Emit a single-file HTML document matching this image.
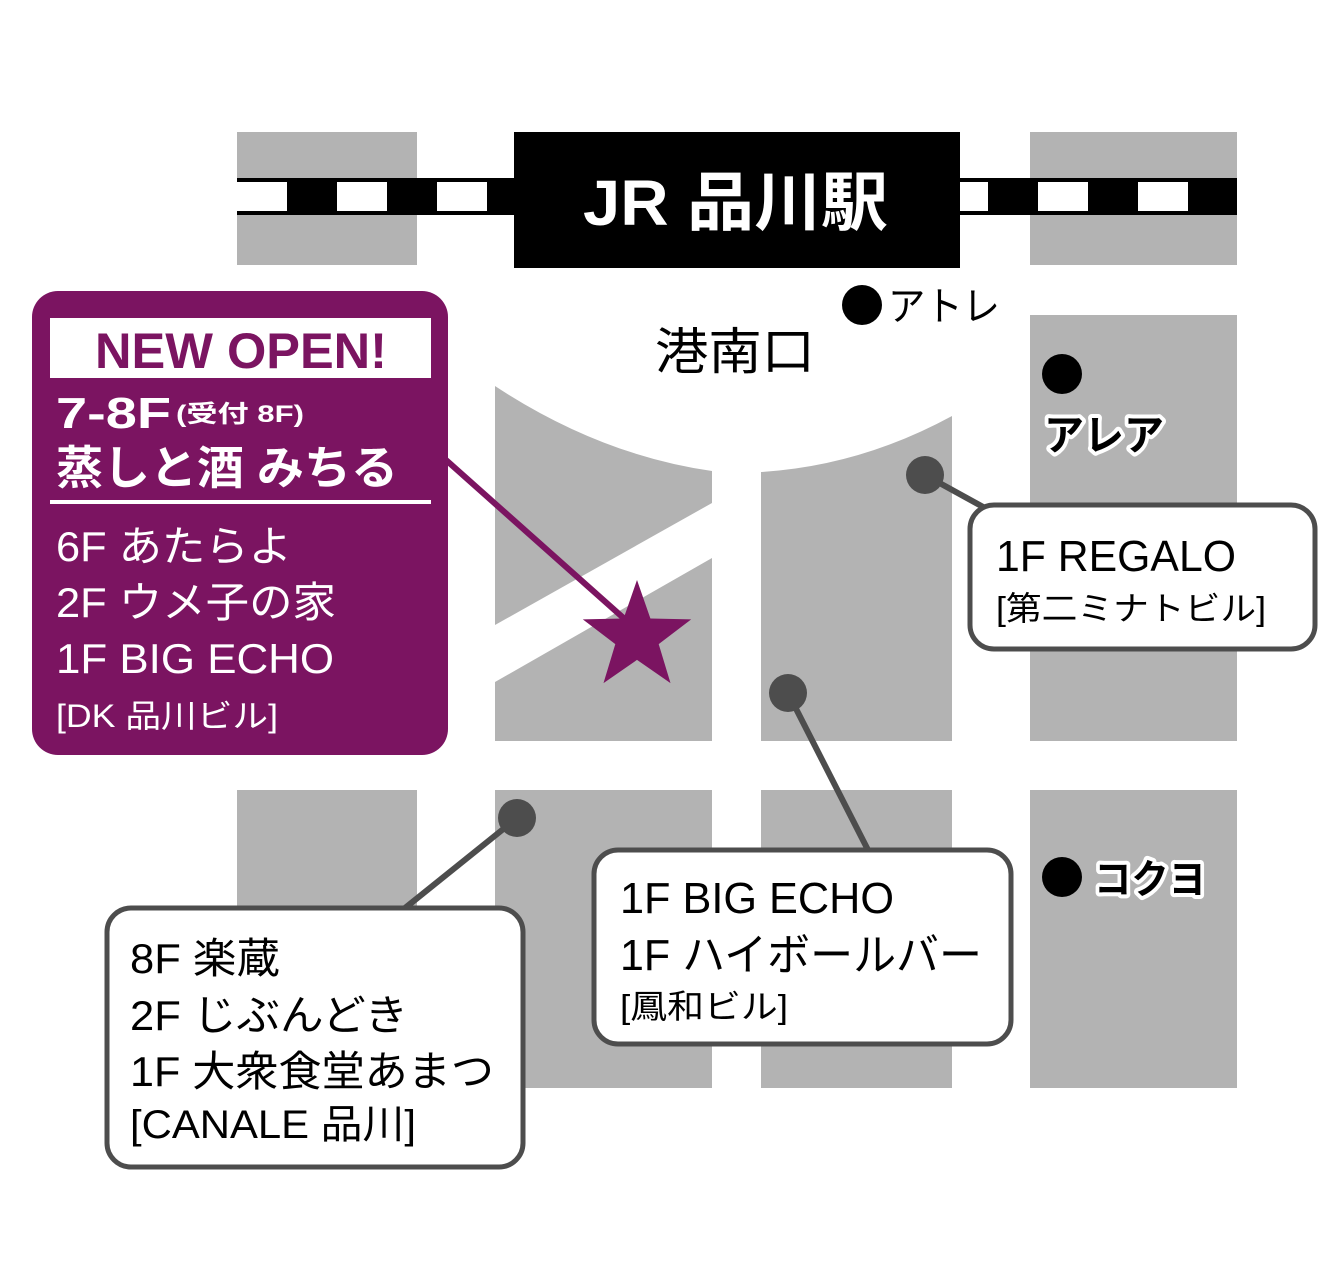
<!DOCTYPE html>
<html><head><meta charset="utf-8"><style>
html,body{margin:0;padding:0;background:#fff;}
svg{display:block;}
text{font-family:"Liberation Sans","Noto Sans CJK JP",sans-serif;}
</style></head><body>
<svg width="1344" height="1277" viewBox="0 0 1344 1277" xmlns="http://www.w3.org/2000/svg">
<rect width="1344" height="1277" fill="#fff"/>
<g fill="#b3b3b3">
<rect x="237" y="132" width="180" height="133"/>
<rect x="1030" y="132" width="207" height="133"/>
<rect x="1030" y="315" width="207" height="426"/>
<path d="M495,386 Q600,455 712,471 L712,741 L495,741 Z"/>
<path d="M761,472 Q860,466 952,416 L952,741 L761,741 Z"/>
<rect x="237" y="790" width="180" height="298"/>
<rect x="495" y="790" width="217" height="298"/>
<rect x="761" y="790" width="191" height="298"/>
<rect x="1030" y="790" width="207" height="298"/>
</g>
<path d="M495,625 L712,503 L712,558 L495,682 Z" fill="#fff"/>
<!-- rail -->
<rect x="237" y="178" width="1000" height="37" fill="#000"/>
<g fill="#fff">
<rect x="237" y="182" width="50" height="29"/>
<rect x="337" y="182" width="50" height="29"/>
<rect x="437" y="182" width="50" height="29"/>
<rect x="960" y="182" width="28" height="29"/>
<rect x="1038" y="182" width="50" height="29"/>
<rect x="1138" y="182" width="50" height="29"/>
</g>
<rect x="514" y="132" width="446" height="136" fill="#000"/>
<text x="583" y="225" fill="#fff" font-size="64" font-weight="bold" textLength="305" lengthAdjust="spacingAndGlyphs">JR 品川駅</text>
<text x="655" y="369" fill="#000" font-size="50" textLength="160" lengthAdjust="spacingAndGlyphs">港南口</text>
<circle cx="862" cy="305" r="20" fill="#000"/>
<text x="888" y="320" fill="#000" font-size="40" textLength="112" lengthAdjust="spacingAndGlyphs">アトレ</text>
<circle cx="1062" cy="374" r="20" fill="#000"/>
<text x="1044" y="450" fill="#000" font-size="42" font-weight="bold" stroke="#fff" stroke-width="8" paint-order="stroke" stroke-linejoin="round" textLength="120" lengthAdjust="spacingAndGlyphs">アレア</text>
<circle cx="1062" cy="877" r="20" fill="#000"/>
<text x="1094" y="893" fill="#000" font-size="40" font-weight="bold" stroke="#fff" stroke-width="8" paint-order="stroke" stroke-linejoin="round" textLength="112" lengthAdjust="spacingAndGlyphs">コクヨ</text>
<!-- connectors -->
<g stroke="#4d4d4d" stroke-width="6" fill="none">
<line x1="925" y1="475" x2="985" y2="508"/>
<line x1="788" y1="693" x2="868" y2="850"/>
<line x1="517" y1="818" x2="405" y2="908"/>
</g>
<g fill="#4d4d4d">
<circle cx="925" cy="475" r="19"/>
<circle cx="788" cy="693" r="19"/>
<circle cx="517" cy="818" r="19"/>
</g>
<!-- boxes -->
<g fill="#fff" stroke="#4d4d4d" stroke-width="5">
<rect x="970" y="505" width="345" height="144" rx="24"/>
<rect x="594" y="850" width="417" height="194" rx="24"/>
<rect x="107" y="908" width="416" height="259" rx="24"/>
</g>
<g fill="#000">
<text x="996" y="571" font-size="44" textLength="240" lengthAdjust="spacingAndGlyphs">1F REGALO</text>
<text x="996" y="620" font-size="33" textLength="270" lengthAdjust="spacingAndGlyphs">[第二ミナトビル]</text>
<text x="620" y="913" font-size="44" textLength="274" lengthAdjust="spacingAndGlyphs">1F BIG ECHO</text>
<text x="620" y="970" font-size="44" textLength="362" lengthAdjust="spacingAndGlyphs">1F ハイボールバー</text>
<text x="620" y="1018" font-size="33" textLength="168" lengthAdjust="spacingAndGlyphs">[鳳和ビル]</text>
<text x="130" y="973" font-size="42" textLength="150" lengthAdjust="spacingAndGlyphs">8F 楽蔵</text>
<text x="130" y="1030" font-size="42" textLength="278" lengthAdjust="spacingAndGlyphs">2F じぶんどき</text>
<text x="130" y="1086" font-size="42" textLength="364" lengthAdjust="spacingAndGlyphs">1F 大衆食堂あまつ</text>
<text x="130" y="1138" font-size="40" textLength="286" lengthAdjust="spacingAndGlyphs">[CANALE 品川]</text>
</g>
<!-- purple -->
<rect x="32" y="291" width="416" height="464" rx="26" fill="#7b1461"/>
<rect x="50" y="318" width="381" height="60" fill="#fff"/>
<text x="95" y="368" fill="#7b1461" font-size="50" font-weight="bold" textLength="292" lengthAdjust="spacingAndGlyphs">NEW OPEN!</text>
<g fill="#fff">
<text x="56" y="428" font-size="44" font-weight="bold" textLength="115" lengthAdjust="spacingAndGlyphs">7-8F</text>
<text x="176" y="422" font-size="24" font-weight="bold" textLength="128" lengthAdjust="spacingAndGlyphs">(受付 8F)</text>
<text x="56" y="484" font-size="46" font-weight="bold" textLength="342" lengthAdjust="spacingAndGlyphs">蒸しと酒 みちる</text>
<rect x="50" y="500" width="381" height="4"/>
<text x="56" y="561" font-size="42" textLength="236" lengthAdjust="spacingAndGlyphs">6F あたらよ</text>
<text x="56" y="617" font-size="42" textLength="280" lengthAdjust="spacingAndGlyphs">2F ウメ子の家</text>
<text x="56" y="673" font-size="42" textLength="278" lengthAdjust="spacingAndGlyphs">1F BIG ECHO</text>
<text x="56" y="727" font-size="32" textLength="222" lengthAdjust="spacingAndGlyphs">[DK 品川ビル]</text>
</g>
<line x1="446" y1="460" x2="628" y2="622" stroke="#7b1461" stroke-width="6"/>
<polygon fill="#7b1461" points="637,580 650.4,618.5 691.2,619.4 658.7,644.1 670.5,683.1 637,659.9 603.5,683.1 615.3,644.1 582.8,619.4 623.6,618.5"/>
</svg>
</body></html>
